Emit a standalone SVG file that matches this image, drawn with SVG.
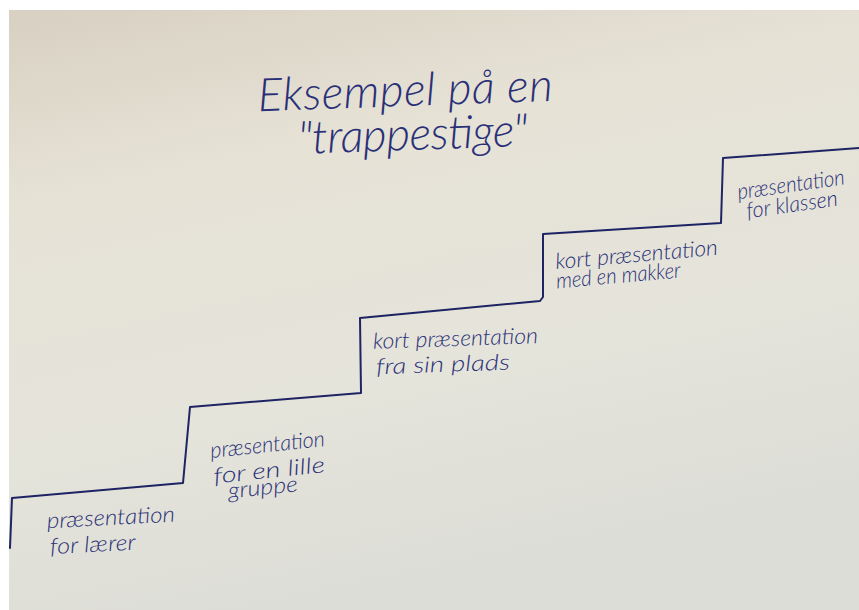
<svg xmlns="http://www.w3.org/2000/svg" width="859" height="610" viewBox="0 0 859 610">
<defs>
<linearGradient id="paper" x1="0" y1="0" x2="0.3" y2="1">
<stop offset="0" stop-color="#d8d0c2"/>
<stop offset="0.3" stop-color="#e6e2d6"/>
<stop offset="0.7" stop-color="#e5e4db"/>
<stop offset="1" stop-color="#dcddd6"/>
</linearGradient>
<style>
.ink{fill:none;stroke:#1e2463;stroke-width:2;stroke-linejoin:round;stroke-linecap:round}
.hw{font-family:"Lato","Liberation Sans","DejaVu Sans",sans-serif;font-style:italic;font-weight:300;fill:#2a3078;font-size:22px}
.title{font-size:46px}
</style>
</defs>
<rect width="859" height="610" fill="#ffffff"/>
<rect x="9" y="10" width="850" height="600" fill="url(#paper)"/>
<g id="connectors">
<path class="ink" d="M10,548 L12,498 L183,483 L190,407 L361,393 L360,318 L540,301 L543,297 L543,234 L721,223 L723,158 L859,148"/>
</g>
<g id="title">
<text class="hw title" x="258" y="106" textLength="295" lengthAdjust="spacing" transform="rotate(-2 405 100)">Eksempel på en</text>
<text class="hw title" x="298" y="150" textLength="230" lengthAdjust="spacing" transform="rotate(-2 410 140)">"trappestige"</text>
</g>
<g id="step1">
<text class="hw" x="47" y="525" textLength="128" lengthAdjust="spacingAndGlyphs" transform="rotate(-3 110 520)">præsentation</text>
<text class="hw" x="50" y="552" textLength="86" lengthAdjust="spacingAndGlyphs" transform="rotate(-3 90 548)">for lærer</text>
</g>
<g id="step2">
<text class="hw" x="210" y="452" textLength="115" lengthAdjust="spacingAndGlyphs" transform="rotate(-6 268 445)">præsentation</text>
<text class="hw" x="213" y="478" textLength="112" lengthAdjust="spacingAndGlyphs" transform="rotate(-6 268 470)">for en lille</text>
<text class="hw" x="228" y="495" textLength="70" lengthAdjust="spacingAndGlyphs" transform="rotate(-6 262 490)">gruppe</text>
</g>
<g id="step3">
<text class="hw" x="373" y="346" textLength="165" lengthAdjust="spacingAndGlyphs" transform="rotate(-2 455 340)">kort præsentation</text>
<text class="hw" x="376" y="372" textLength="134" lengthAdjust="spacingAndGlyphs" transform="rotate(-2 440 368)">fra sin plads</text>
</g>
<g id="step4">
<text class="hw" x="555" y="262" textLength="163" lengthAdjust="spacingAndGlyphs" transform="rotate(-5 636 255)">kort præsentation</text>
<text class="hw" x="556" y="283" textLength="125" lengthAdjust="spacingAndGlyphs" transform="rotate(-5 618 278)">med en makker</text>
</g>
<g id="step5">
<text class="hw" x="737" y="192" textLength="108" lengthAdjust="spacingAndGlyphs" transform="rotate(-8 790 185)">præsentation</text>
<text class="hw" x="746" y="212" textLength="92" lengthAdjust="spacingAndGlyphs" transform="rotate(-8 792 205)">for klassen</text>
</g>
</svg>
